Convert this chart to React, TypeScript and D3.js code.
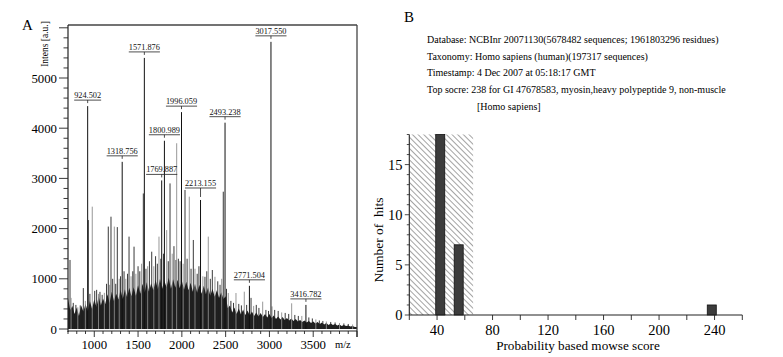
import React from 'react';
import * as d3 from 'd3';

const W = 783;
const H = 357;
const SERIF = '"Liberation Serif", "Times New Roman", serif';

// ---------- Panel A : MALDI-TOF spectrum ----------
const labeledMz = [924.502, 1318.756, 1571.876, 1769.887, 1800.989, 1996.059, 2213.155, 2493.238, 2771.504, 3017.55, 3416.782];
const labeledIntensity = [4440, 3330, 5400, 2960, 3750, 4320, 2570, 4110, 860, 5720, 480];
const labelLift: Record<string, number> = { '2213.155': 6 };

const minorPeakMz = [
  723, 735, 760, 790, 812, 840, 875, 898, 932, 950, 977, 1005, 1027, 1048, 1065, 1090, 1115, 1140, 1160, 1175,
  1191, 1210, 1229, 1245, 1263, 1285, 1300, 1340, 1360, 1380, 1397, 1420, 1440, 1454, 1475, 1500, 1520, 1540, 1560, 1590,
  1610, 1630, 1656, 1680, 1700, 1720, 1739, 1760, 1790, 1827, 1845, 1865, 1890, 1910, 1933, 1941, 1960, 1980, 2015, 2036,
  2060, 2085, 2105, 2131, 2150, 2175, 2195, 2240, 2264, 2285, 2302, 2325, 2348, 2378, 2410, 2436, 2455, 2473, 2510, 2530,
  2560, 2590, 2618, 2650, 2680, 2713, 2740, 2790, 2820, 2850, 2880, 2923, 2960, 2990, 3030, 3060, 3100, 3140, 3180, 3220,
  3254, 3290, 3330, 3370, 3450, 3490, 3530, 3570, 3610, 3650, 3700, 3750, 3800, 3850, 3900, 3950,
];
const minorPeakIntensity = [
  1375, 620, 520, 480, 430, 470, 815, 560, 2170, 700, 2437, 760, 780, 700, 740, 680, 720, 900, 2040, 880,
  2237, 1000, 2040, 900, 2030, 1000, 1050, 1150, 1000, 1100, 1840, 1050, 1150, 1640, 1100, 1250, 1150, 1300, 2700, 1200,
  1250, 1350, 1540, 1250, 1450, 1300, 1840, 1400, 1500, 1970, 1350, 2900, 1500, 1650, 1375, 3700, 1400, 1350, 1300, 2770,
  1400, 2636, 1200, 1773, 1200, 1100, 1250, 1050, 1040, 1150, 1840, 1000, 1175, 1040, 950, 880, 1000, 2735, 800, 717,
  560, 520, 717, 500, 470, 743, 480, 620, 460, 480, 420, 545, 380, 360, 450, 380, 360, 330, 320, 300,
  512, 280, 260, 260, 230, 210, 190, 170, 160, 150, 140, 130, 120, 110, 100, 90,
];

// dense baseline envelope, one reading every 25 m/z from 700 to 4000
const baselineIntensity = [
  620, 380, 460, 300, 430, 260, 470, 350, 500, 360, 560, 400,
  590, 440, 650, 470, 610, 500, 690, 520, 740, 560, 700, 590, 780, 600, 790, 630, 820, 650, 830, 660, 870, 700, 900, 720,
  930, 740, 910, 770, 980, 790, 1000, 800, 960, 830, 1020, 800, 990, 820, 980, 810,
  960, 780, 940, 770, 920, 740, 900, 720, 880, 700, 860, 690, 830, 660, 800, 640, 770, 620, 730, 600,
  650, 420, 470, 330, 430, 300, 410, 290, 390, 280, 370, 270, 350, 260, 330, 250, 320, 240, 300, 230,
  300, 220, 270, 200, 250, 190, 240, 180, 220, 170, 210, 160, 200, 150, 180, 140, 170, 130, 160, 120,
  150, 110, 140, 100, 130, 90, 120, 80, 110, 80, 100, 70, 90, 60, 80, 60, 70, 50, 60, 40, 40,
];
const baselineMz = d3.range(baselineIntensity.length).map((i) => 700 + i * 25);

const xTicksA = [1000, 1500, 2000, 2500, 3000, 3500];
const yTicksA = [0, 1000, 2000, 3000, 4000, 5000];

// ---------- Panel B : Mascot score histogram ----------
const infoLines = [
  'Database: NCBInr 20071130(5678482 sequences; 1961803296 residues)',
  'Taxonomy: Homo sapiens (human)(197317 sequences)',
  'Timestamp: 4 Dec 2007 at 05:18:17 GMT',
  'Top socre: 238 for GI 47678583, myosin,heavy polypeptide 9, non-muscle',
];
const infoLast = '[Homo sapiens]';
const scoreBins = [42.3, 55.6, 238];
const hitCounts = [18, 7, 1];
const significanceThreshold = 66;
const xTicksB = [40, 80, 120, 160, 200, 240];
const yTicksB = [0, 5, 10, 15];

export default function App() {
  // Panel A scales
  const ax0 = 68, ax1 = 357, ayTop = 25, ayAxis = 331;
  const xA = d3.scaleLinear().domain([700, 4000]).range([ax0, ax1]);
  const yA = d3.scaleLinear().domain([0, 5000]).range([329, 78]);
  const area = d3.area<number>()
    .x((_, i) => xA(baselineMz[i]))
    .y0(yA(0))
    .y1((d) => yA(d));
  const minorX = d3.range(700, 4001, 100);
  const minorY = d3.range(0, 6001, 200);

  // Panel B scales
  const xB = d3.scaleLinear().domain([20, 260]).range([409.3, 742.3]);
  const yB = d3.scaleLinear().domain([0, 18]).range([315, 134.5]);
  const barW = xB(26.5) - xB(20);
  const minorXB = d3.range(20, 261, 20);
  const minorYB = d3.range(0, 19, 1);

  const labelFont = 8.3;

  return (
    <svg width={W} height={H} viewBox={`0 0 ${W} ${H}`} style={{ position: 'absolute', left: 0, top: 0, background: '#fff' }} fontFamily={SERIF}>
      <defs>
        <clipPath id="plotA">
          <rect x={ax0} y={ayTop} width={ax1 - ax0} height={ayAxis - ayTop} />
        </clipPath>
        <pattern id="hatch" patternUnits="userSpaceOnUse" width={4} height={4} patternTransform="rotate(-45)">
          <line x1={0} y1={0} x2={0} y2={4} stroke="#333" strokeWidth={0.9} />
        </pattern>
      </defs>

      {/* ===== Panel A ===== */}
      <text x={22} y={30} fontSize={15}>A</text>
      <text transform={`translate(48,44) rotate(-90)`} textAnchor="middle" fontSize={9.5}>Intens [a.u.]</text>

      <g clipPath="url(#plotA)">
        <path d={area(baselineIntensity) || ''} fill="#1e1e1e" />
        {minorPeakMz.map((m, i) => (
          <line key={`mp${i}`} x1={xA(m)} x2={xA(m)} y1={yA(0)} y2={yA(minorPeakIntensity[i])}
            stroke={i % 3 === 1 ? '#8c8c8c' : '#222'} strokeWidth={0.9} />
        ))}
        {labeledMz.map((m, i) => (
          <line key={`lp${i}`} x1={xA(m)} x2={xA(m)} y1={yA(0)} y2={yA(labeledIntensity[i])}
            stroke="#111" strokeWidth={1} />
        ))}
      </g>

      {labeledMz.map((m, i) => {
        const label = m.toFixed(3);
        const lift = labelLift[label] || 0;
        const px = xA(m);
        const py = yA(labeledIntensity[i]) - lift;
        const tw = (label.length - 1) * 0.5 * labelFont + 0.25 * labelFont;
        return (
          <g key={`lab${i}`}>
            <text x={px} y={py - 8} textAnchor="middle" fontSize={labelFont} fill="#111">{label}</text>
            <line x1={px - tw / 2} x2={px + tw / 2} y1={py - 6} y2={py - 6} stroke="#222" strokeWidth={0.8} />
            <line x1={px} x2={px} y1={py - 6} y2={py - 3 + lift} stroke="#222" strokeWidth={0.8} />
          </g>
        );
      })}

      {/* frame */}
      <line x1={ax0} x2={ax1} y1={ayTop} y2={ayTop} stroke="#444" strokeWidth={1.3} />
      <line x1={ax1} x2={ax1} y1={ayTop} y2={ayAxis + 6} stroke="#444" strokeWidth={1.3} />
      <line x1={ax0} x2={ax0} y1={ayTop} y2={ayAxis + 1} stroke="#222" strokeWidth={1.2} />
      <line x1={ax0} x2={ax1} y1={ayAxis} y2={ayAxis} stroke="#222" strokeWidth={1.2} />

      {minorY.map((v) => (
        <line key={`myA${v}`} x1={ax0 - (v % 1000 === 0 ? 9 : 4.5)} x2={ax0} y1={yA(v)} y2={yA(v)} stroke="#222" strokeWidth={0.9} />
      ))}
      {yTicksA.map((v) => (
        <text key={`tyA${v}`} x={57} y={yA(v) + 4.5} textAnchor="end" fontSize={12.8}>{v}</text>
      ))}
      {minorX.map((v) => (
        <line key={`mxA${v}`} x1={xA(v)} x2={xA(v)} y1={ayAxis} y2={ayAxis + (v % 500 === 0 ? 6 : 3)} stroke="#222" strokeWidth={0.9} />
      ))}
      {xTicksA.map((v) => (
        <text key={`txA${v}`} x={xA(v)} y={349} textAnchor="middle" fontSize={12.8}>{v}</text>
      ))}
      <text x={335} y={348} fontSize={10.5}>m/z</text>

      {/* ===== Panel B ===== */}
      <text x={404} y={22} fontSize={15}>B</text>
      {infoLines.map((t, i) => (
        <text key={`info${i}`} x={427} y={43 + i * 16.5} fontSize={10}>{t}</text>
      ))}
      <text x={477} y={109.5} fontSize={10}>{infoLast}</text>

      <rect x={xB(20)} y={yB(18)} width={xB(significanceThreshold) - xB(20)} height={yB(0) - yB(18)} fill="url(#hatch)" />

      {scoreBins.map((s, i) => (
        <rect key={`bar${i}`} x={xB(s) - barW / 2} y={yB(hitCounts[i])} width={barW} height={yB(0) - yB(hitCounts[i])}
          fill="#3c3c3c" stroke="#111" strokeWidth={0.8} />
      ))}

      <line x1={xB(20)} x2={xB(20)} y1={yB(0)} y2={yB(18)} stroke="#222" strokeWidth={1.1} />
      <line x1={xB(20)} x2={xB(260)} y1={yB(0)} y2={yB(0)} stroke="#222" strokeWidth={1.1} />
      {minorYB.map((v) => (
        <line key={`myB${v}`} x1={xB(20) - (v % 5 === 0 ? 4.5 : 2.5)} x2={xB(20)} y1={yB(v)} y2={yB(v)} stroke="#222" strokeWidth={0.8} />
      ))}
      {yTicksB.map((v) => (
        <text key={`tyB${v}`} x={402.5} y={yB(v) + 5} textAnchor="end" fontSize={14.5}>{v}</text>
      ))}
      {minorXB.map((v) => (
        <line key={`mxB${v}`} x1={xB(v)} x2={xB(v)} y1={yB(0)} y2={yB(0) + 5} stroke="#222" strokeWidth={0.9} />
      ))}
      {xTicksB.map((v) => (
        <text key={`txB${v}`} x={xB(v)} y={335} textAnchor="middle" fontSize={14.5}>{v}</text>
      ))}
      <text x={578} y={350} textAnchor="middle" fontSize={13.2}>Probability based mowse score</text>
      <text transform={`translate(383,240) rotate(-90)`} textAnchor="middle" fontSize={13.5} style={{ whiteSpace: 'pre' }}>Number of  hits</text>
    </svg>
  );
}
